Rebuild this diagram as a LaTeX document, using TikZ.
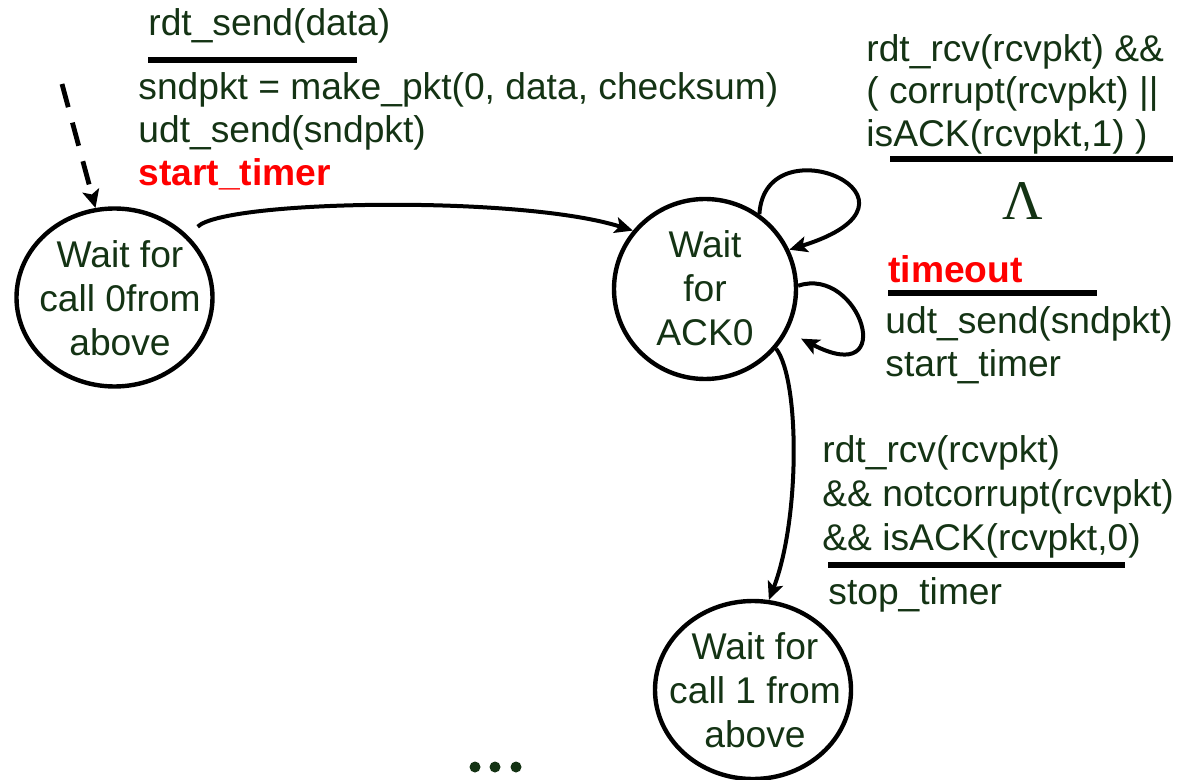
\documentclass[tikz,border=0pt]{standalone}
\usepackage{fontspec}
\setmainfont{Liberation Sans}
\newfontfamily\serifL{Liberation Serif}
\usetikzlibrary{arrows.meta,shapes.geometric}
\definecolor{dkg}{RGB}{20,51,20}
\newcommand{\fsz}{\fontsize{18.6}{22}\selectfont}
\begin{document}
\begin{tikzpicture}[x=0.5pt,y=-0.5pt,
 state/.style={draw, ellipse, line width=2.2pt, inner sep=0pt},
 stext/.style={align=center, inner sep=0pt, text=dkg, font=\fsz},
 lbl/.style={anchor=base west, inner sep=0pt, text=dkg, font=\fsz},
 redlbl/.style={anchor=base west, inner sep=0pt, text=red, font=\fsz\bfseries},
 bar/.style={line width=2.8pt},
 arr/.style={line width=2pt, -{Stealth[length=9pt,width=8pt,inset=2pt]}},
 dasharr/.style={line width=2.4pt, dash pattern=on 12pt off 8pt, -{Stealth[length=9pt,width=8.5pt,inset=2pt]}},
]
\useasboundingbox (0,0) rectangle (1182,780);

% states
\node[state, minimum width=98pt, minimum height=89pt] (s0) at (114.5,297.5) {};
\node[stext] (s0t) at (120,298) {Wait for\\call 0from\\above};
\node[state, minimum width=91pt, minimum height=90pt] (s1) at (705,289) {};
\node[stext] (s1t) at (705,288) {Wait\\for\\ACK0};
\node[state, minimum width=98pt, minimum height=89pt] (s2) at (753,690) {};
\node[stext] (s2t) at (755,690.4) {Wait for\\call 1 from\\above};

% top-left label
\node[lbl] (a1) at (148,36) {rdt\_send(data)};
\draw[bar] (148,60) -- (357,60);
\node[lbl] (a2) at (138,100) {sndpkt = make\_pkt(0, data, checksum)};
\node[lbl] (a3) at (138,143) {udt\_send(sndpkt)};
\node[redlbl] (a4) at (138,186) {start\_timer};

% top-right label
\node[lbl] (b1) at (866,62) {rdt\_rcv(rcvpkt) \&\&};
\node[lbl] (b2) at (866,104) {( corrupt(rcvpkt) ||};
\node[lbl] (b3) at (866,147) {isACK(rcvpkt,1) )};
\draw[bar] (890,159) -- (1173,159);
\node[text=dkg, font=\serifL\fontsize{28}{28}\selectfont, anchor=base, inner sep=0pt] (lam) at (1023,220) {Λ};

% timeout label
\node[redlbl] (c1) at (888,283) {timeout};
\draw[bar] (888,293) -- (1097,293);
\node[lbl] (c2) at (885,334) {udt\_send(sndpkt)};
\node[lbl] (c3) at (885,377) {start\_timer};

% bottom-right label
\node[lbl] (d1) at (822,462) {rdt\_rcv(rcvpkt)};
\node[lbl] (d2) at (822,506) {\&\& notcorrupt(rcvpkt)};
\node[lbl] (d3) at (822,550) {\&\& isACK(rcvpkt,0)};
\draw[bar] (828,565) -- (1125,565);
\node[lbl] (d4) at (828,604) {stop\_timer};

% dots
\fill[dkg] (475,767) circle (2.75pt);
\fill[dkg] (495,767) circle (2.75pt);
\fill[dkg] (516,767) circle (2.75pt);

% connectors
\coordinate (init) at (62,84);
\draw[dasharr] (init) -- (s0.102);
\draw[arr] ([xshift=4.75pt,yshift=4.5pt]s0.40) .. controls (225,200) and (520,195) .. (s1.141);
\draw[arr] (s1.54) .. controls (765,120) and (950,200) .. (s1.25);
\draw[arr] (s1.2) .. controls (860,265) and (900,390) .. ([xshift=7pt,yshift=-3pt]s1.-28);
\draw[arr] (s1.-40) .. controls (800,380) and (800,520) .. (s2.80);
\end{tikzpicture}
\end{document}
